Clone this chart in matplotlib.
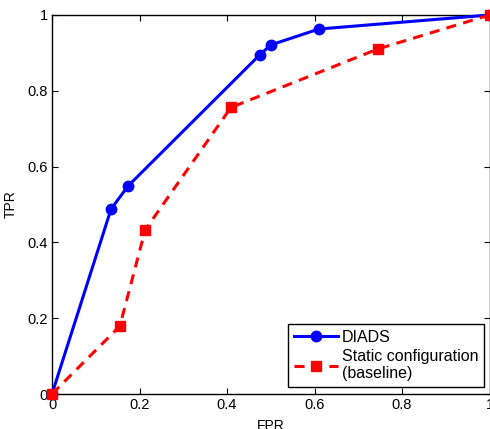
import matplotlib
matplotlib.use("Agg")
import matplotlib.pyplot as plt

plt.rcParams['font.family'] = ['Liberation Sans', 'DejaVu Sans']

diads_fpr = [0.0, 0.135, 0.174, 0.475, 0.50, 0.61, 1.0]
diads_tpr = [0.0, 0.488, 0.549, 0.895, 0.921, 0.963, 1.0]
static_fpr = [0.0, 0.155, 0.213, 0.409, 0.744, 1.0]
static_tpr = [0.0, 0.179, 0.433, 0.756, 0.910, 1.0]
ticks = [0, 0.2, 0.4, 0.6, 0.8, 1]
tick_labels = ['0', '0.2', '0.4', '0.6', '0.8', '1']

fig = plt.figure(figsize=(4.9, 4.29), dpi=100)
ax = fig.add_axes([52/490, 35/429, 437.5/490, 379/429])

ax.plot(diads_fpr, diads_tpr, '-o', color='#0000ff', lw=2.2, ms=7.5, label='DIADS', clip_on=False, zorder=3)
ax.plot(static_fpr, static_tpr, '--s', color='#ff0000', lw=2.2, ms=6.5, dashes=(3.3, 2.4),
        dash_capstyle='butt', label='Static configuration\n(baseline)', clip_on=False, zorder=3)

ax.set_xlim(0, 1)
ax.set_ylim(0, 1)
ax.set_xticks(ticks)
ax.set_xticklabels(tick_labels)
ax.set_yticks(ticks)
ax.set_yticklabels(tick_labels)
ax.tick_params(direction='in', length=4, width=0.8, top=True, right=True, labelsize=10.5, pad=3)
for s in ax.spines.values():
    s.set_linewidth(1.0)
ax.set_xlabel('FPR', fontsize=10, labelpad=5)
ax.set_ylabel('TPR', fontsize=10, labelpad=7)

leg = ax.legend(loc='lower right', bbox_to_anchor=(0.9874, 0.0185), fontsize=11.5, frameon=True,
                fancybox=False, edgecolor='black', borderpad=0.35, handlelength=2.75,
                handletextpad=0.25, labelspacing=0.25, borderaxespad=0, framealpha=1)
leg.get_frame().set_linewidth(1.0)

fig.savefig('out.png', dpi=100)
